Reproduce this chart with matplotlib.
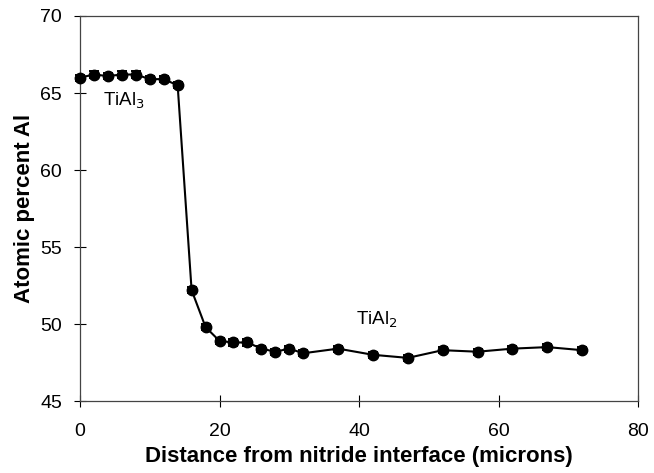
import numpy as np
import matplotlib
matplotlib.use('Agg')
import matplotlib.pyplot as plt

plt.rcParams['font.family'] = ['Liberation Sans', 'DejaVu Sans']

distance = [0, 2, 4, 6, 8, 10, 12, 14, 16, 18, 20, 22, 24, 26, 28, 30, 32,
            37, 42, 47, 52, 57, 62, 67, 72]
al_pct = [66.0, 66.2, 66.1, 66.2, 66.2, 65.9, 65.9, 65.5, 52.2, 49.8, 48.9,
          48.8, 48.8, 48.4, 48.2, 48.4, 48.1, 48.4, 48.0, 47.8, 48.3, 48.2,
          48.4, 48.5, 48.3]
err = [0.2] * len(al_pct)

fig = plt.figure(figsize=(6.54, 4.73), dpi=100)
ax = fig.add_axes([80 / 654, 1 - 401 / 473, 558 / 654, 385 / 473])

ax.errorbar(distance, al_pct, yerr=err, color='black', lw=1.5, marker='o',
            ms=7.5, capsize=3.5, elinewidth=1.4, capthick=1.4, zorder=3,
            clip_on=False)

ax.text(3.3, 64.5, 'TiAl$_3$', fontsize=13.5, va='center')
ax.text(39.6, 50.3, 'TiAl$_2$', fontsize=13.5, va='center')

ax.set_xlim(0, 80)
ax.set_ylim(45, 70)
ax.set_xticks(np.arange(0, 81, 20))
ax.set_yticks(np.arange(45, 71, 5))
ax.tick_params(direction='inout', length=8, labelsize=14, width=0.8)
ax.tick_params(axis='x', pad=12)
ax.tick_params(axis='y', pad=9)
for s in ax.spines.values():
    s.set_color('#444444')
    s.set_linewidth(0.9)

ax.set_xlabel('Distance from nitride interface (microns)', fontsize=16,
              fontweight='bold', labelpad=4.5)
ax.set_ylabel('Atomic percent Al', fontsize=16, fontweight='bold', labelpad=4)

fig.savefig('out.png', dpi=100)
